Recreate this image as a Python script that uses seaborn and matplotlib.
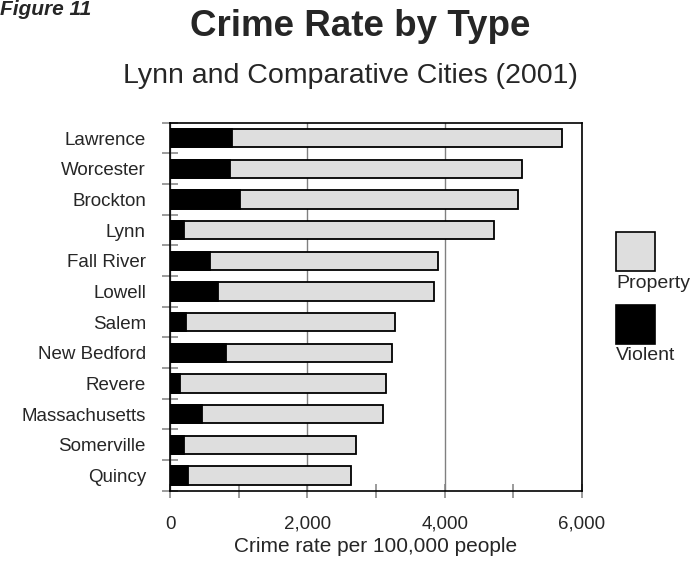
import numpy as np
import pandas as pd
import matplotlib
matplotlib.use("Agg")
import matplotlib.pyplot as plt
import seaborn as sns
from matplotlib.patches import Rectangle
from matplotlib.ticker import FixedLocator, FixedFormatter

# ---- data ----
cities = ["Lawrence", "Worcester", "Brockton", "Lynn", "Fall River", "Lowell",
          "Salem", "New Bedford", "Revere", "Massachusetts", "Somerville", "Quincy"]
violent = [905, 870, 1015, 205, 580, 700, 235, 810, 148, 465, 205, 262]
property_ = [4800, 4255, 4050, 4515, 3325, 3150, 3035, 2430, 3000, 2630, 2510, 2370]
x_major = [0, 2000, 4000, 6000]
x_major_labels = ["0", "2,000", "4,000", "6,000"]
x_minor = [1000, 3000, 5000]
series_names = ["Property", "Violent"]

df = pd.DataFrame({"city": cities, "violent": violent, "property": property_})
df["total"] = df["violent"] + df["property"]

sns.set_style("white")
plt.rcParams["font.family"] = ["Liberation Sans", "DejaVu Sans"]

fig = plt.figure(figsize=(6.96, 5.61), dpi=100)
ax = fig.add_axes([170 / 696, 1 - 490.7 / 561, (582 - 170) / 696, (490.7 - 122.7) / 561])

prop_color = "#dedede"
sns.barplot(data=df, x="total", y="city", order=cities, color=prop_color,
            saturation=1, edgecolor="black", linewidth=1.3, width=0.6, ax=ax)
sns.barplot(data=df, x="violent", y="city", order=cities, color="black",
            saturation=1, edgecolor="black", linewidth=1.3, width=0.6, ax=ax)

ax.set_xlim(0, 6000)
ax.set_ylim(len(cities) - 0.5, -0.5)

# x ticks
ax.xaxis.set_major_locator(FixedLocator(x_major))
ax.xaxis.set_major_formatter(FixedFormatter(x_major_labels))
ax.xaxis.set_minor_locator(FixedLocator(x_minor))
ax.tick_params(axis="x", which="both", direction="inout", length=10, width=1.1,
               color="#808080", bottom=True, labelsize=13.5, pad=13.2)
ax.grid(axis="x", which="major", color="#808080", linewidth=1.0)
ax.grid(axis="y", visible=False)
ax.set_axisbelow(True)

# y ticks: labels at centers, marks at boundaries
ax.yaxis.set_minor_locator(FixedLocator(np.arange(-0.5, len(cities), 1.0)))
ax.tick_params(axis="y", which="major", length=0, labelsize=13.5, pad=17.3)
ax.tick_params(axis="y", which="minor", direction="inout", length=11.5, width=1.1,
               color="#808080", left=True)
ax.set_ylabel("")
ax.set_xlabel("Crime rate per 100,000 people", fontsize=15, labelpad=3)

for s in ax.spines.values():
    s.set_visible(True)
    s.set_color("black")
    s.set_linewidth(1.2)

# titles
fig.text(0.0, 1 - 15 / 561, "Figure 11", fontsize=15, fontweight="bold",
         fontstyle="italic", ha="left", va="baseline")
fig.text(360 / 696, 1 - 36.5 / 561, "Crime Rate by Type", fontsize=26.5,
         fontweight="bold", ha="center", va="baseline")
fig.text(350.5 / 696, 1 - 83 / 561, "Lynn and Comparative Cities (2001)",
         fontsize=20.5, ha="center", va="baseline")

# legend (swatch above label)
W, H = 696, 561
for name, col, top in [(series_names[0], prop_color, 232), (series_names[1], "black", 305)]:
    fig.patches.append(Rectangle((616 / W, 1 - (top + 38.5) / H), 38.5 / W, 38.5 / H,
                                 facecolor=col, edgecolor="black", linewidth=1.2,
                                 transform=fig.transFigure, figure=fig))
    fig.text(616 / W, 1 - (top + 51) / H, name, fontsize=14, ha="left", va="center")

fig.savefig("out.png", dpi=100)
